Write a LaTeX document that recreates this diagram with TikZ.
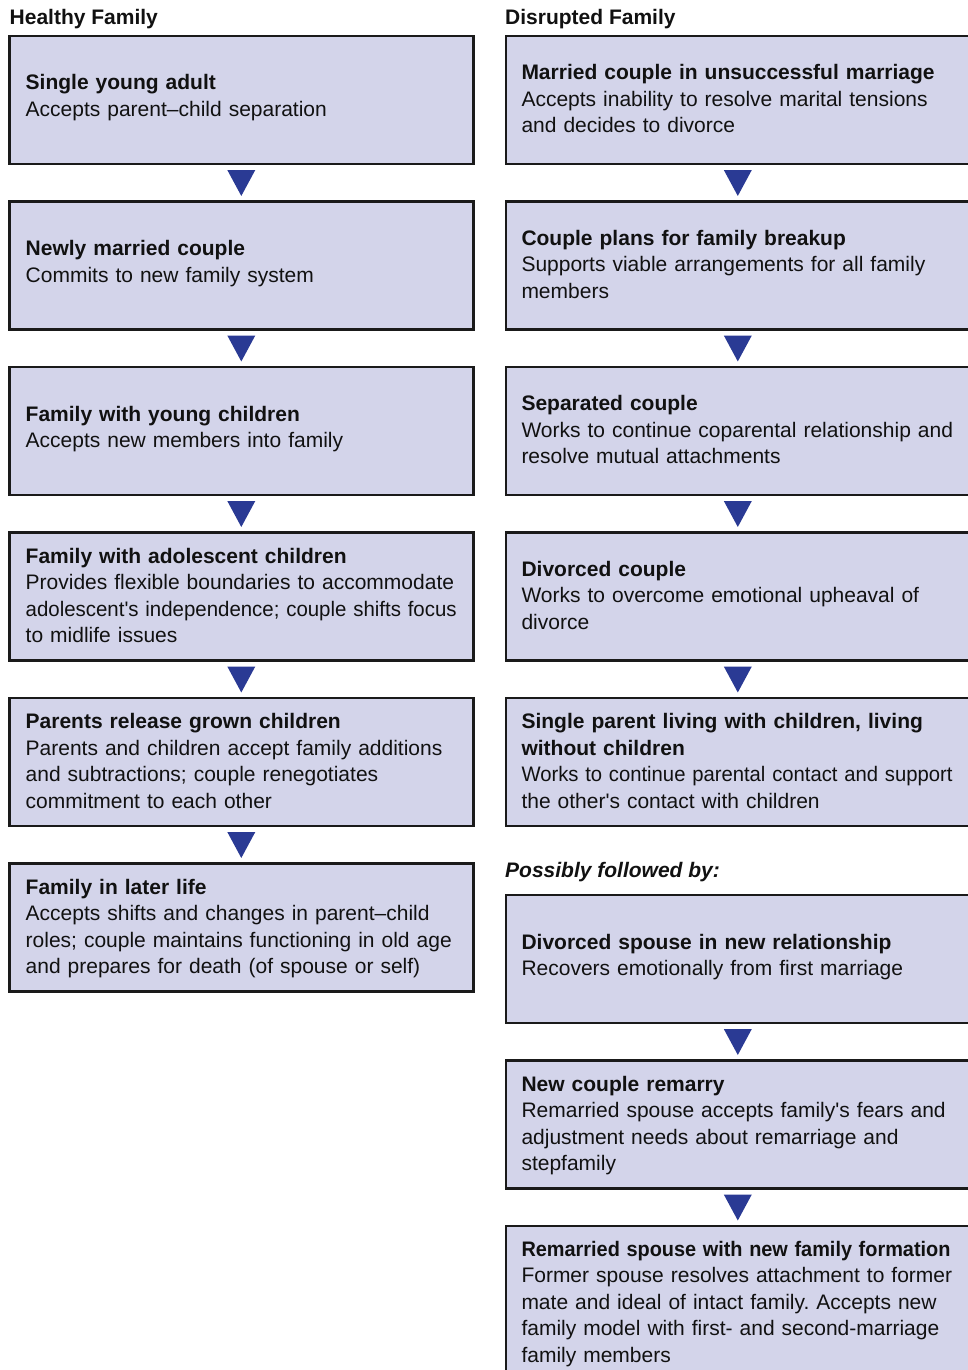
\documentclass[tikz,border=0pt]{standalone}
\usepackage{fontspec}
\usepackage{graphicx}
\setmainfont{Liberation Sans}
\usetikzlibrary{calc}

\definecolor{boxfill}{HTML}{D3D4EA}
\definecolor{boxline}{HTML}{1A1A1A}
\definecolor{arrowblue}{HTML}{2A3A94}
\definecolor{ink}{HTML}{111111}

\newcommand{\apos}{\textquotesingle}
% squeeze a line that would otherwise run past the box's inner margin
\newcommand{\fitline}[2]{\resizebox{#1}{\height}{#2}}
\frenchspacing

\begin{document}
\begin{tikzpicture}[x=1pt,y=-1pt,
  stage/.style={draw=boxline, fill=boxfill, line width=2.5pt,
    minimum width=464pt, minimum height=128pt,
    inner sep=0pt, outer sep=0pt, anchor=north west},
  tallstage/.style={stage, minimum height=154pt},
  stagetext/.style={anchor=base west, inner sep=0pt, text width=520pt,
    align=left, text=ink, font=\fontsize{21}{26.6}\selectfont},
  heading/.style={anchor=base west, inner sep=0pt, text=ink,
    font=\fontsize{21}{26.6}\selectfont\bfseries},
  flowarrow/.style={fill=arrowblue}
]
\useasboundingbox (0,0) rectangle (968,1370);

% column headings
\node[heading] (hl) at (9.5,25) {Healthy Family};
\node[heading] (hr) at (505,25) {Disrupted Family};
\node[heading, font=\fontsize{21}{26.6}\selectfont\bfseries\itshape] (hp) at (505,877) {Possibly followed by:};

% healthy family stages
\node[stage] (L1) at (9.3,36) {};
\node[stagetext] (L1t) at ($(L1.north west)+(16.2,54)$)
  {\textbf{Single young adult}\\Accepts parent–child separation};
\node[stage] (L2) at (9.3,201.5) {};
\node[stagetext] (L2t) at ($(L2.north west)+(16.2,54)$)
  {\textbf{Newly married couple}\\Commits to new family system};
\node[stage] (L3) at (9.3,367) {};
\node[stagetext] (L3t) at ($(L3.north west)+(16.2,54)$)
  {\textbf{Family with young children}\\Accepts new members into family};
\node[stage] (L4) at (9.3,532.5) {};
\node[stagetext] (L4t) at ($(L4.north west)+(16.2,30.5)$)
  {\textbf{Family with adolescent children}\\Provides flexible boundaries to accommodate\\\fitline{431pt}{adolescent\apos s independence; couple shifts focus}\\to midlife issues};
\node[stage] (L5) at (9.3,698) {};
\node[stagetext] (L5t) at ($(L5.north west)+(16.2,30.5)$)
  {\textbf{Parents release grown children}\\Parents and children accept family additions\\and subtractions; couple renegotiates\\commitment to each other};
\node[stage] (L6) at (9.3,863.5) {};
\node[stagetext] (L6t) at ($(L6.north west)+(16.2,30.5)$)
  {\textbf{Family in later life}\\Accepts shifts and changes in parent–child\\roles; couple maintains functioning in old age\\and prepares for death (of spouse or self)};

% disrupted family stages
\node[stage] (R1) at (505.8,36) {};
\node[stagetext] (R1t) at ($(R1.north west)+(15.5,43.5)$)
  {\textbf{Married couple in unsuccessful marriage}\\Accepts inability to resolve marital tensions\\and decides to divorce};
\node[stage] (R2) at (505.8,201.5) {};
\node[stagetext] (R2t) at ($(R2.north west)+(15.5,43.5)$)
  {\textbf{Couple plans for family breakup}\\Supports viable arrangements for all family\\members};
\node[stage] (R3) at (505.8,367) {};
\node[stagetext] (R3t) at ($(R3.north west)+(15.5,43.5)$)
  {\textbf{Separated couple}\\Works to continue coparental relationship and\\resolve mutual attachments};
\node[stage] (R4) at (505.8,532.5) {};
\node[stagetext] (R4t) at ($(R4.north west)+(15.5,43.5)$)
  {\textbf{Divorced couple}\\Works to overcome emotional upheaval of\\divorce};
\node[stage] (R5) at (505.8,698) {};
\node[stagetext] (R5t) at ($(R5.north west)+(15.5,30.5)$)
  {\textbf{Single parent living with children, living}\\\textbf{without children}\\\fitline{431pt}{Works to continue parental contact and support}\\the other\apos s contact with children};

% stages that may follow
\node[stage] (R6) at (505.8,895) {};
\node[stagetext] (R6t) at ($(R6.north west)+(15.5,54)$)
  {\textbf{Divorced spouse in new relationship}\\Recovers emotionally from first marriage};
\node[stage] (R7) at (505.8,1060.5) {};
\node[stagetext] (R7t) at ($(R7.north west)+(15.5,30.5)$)
  {\textbf{New couple remarry}\\Remarried spouse accepts family\apos s fears and\\adjustment needs about remarriage and\\stepfamily};
\node[tallstage] (R8) at (505.8,1226) {};
\node[stagetext] (R8t) at ($(R8.north west)+(15.5,30)$)
  {\fitline{429pt}{\textbf{Remarried spouse with new family formation}}\\Former spouse resolves attachment to former\\mate and ideal of intact family. Accepts new\\family model with first- and second-marriage\\family members};

% downward triangles between consecutive stages
\foreach \a/\b in {L1/L2,L2/L3,L3/L4,L4/L5,L5/L6,
                   R1/R2,R2/R3,R3/R4,R4/R5,R6/R7,R7/R8} {
  \fill[flowarrow] ($(\a.south)!0.16!(\b.north)+(-14,0)$)
    -- ($(\a.south)!0.16!(\b.north)+(14,0)$)
    -- ($(\a.south)!0.853!(\b.north)$) -- cycle;
}
\end{tikzpicture}
\end{document}
